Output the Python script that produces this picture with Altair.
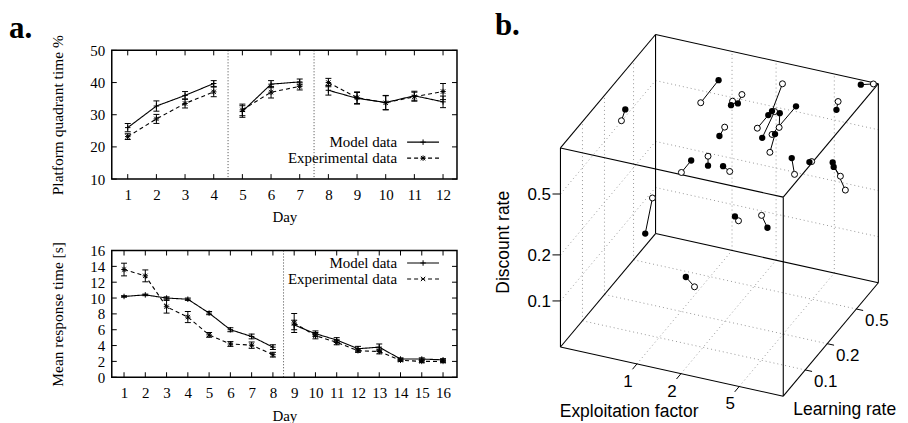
import math
import itertools
import altair as alt
import pandas as pd

SERIF = "Liberation Serif"
SANS = "Liberation Sans"

# ---------------- panel a (top): platform quadrant time % --------------------
pq_days = [1, 2, 3, 4, 5, 6, 7, 8, 9, 10, 11, 12]
pq_block = [1, 1, 1, 1, 2, 2, 2, 3, 3, 3, 3, 3]
pq_model = [26.0, 32.7, 36.0, 39.7, 31.0, 39.5, 40.2, 37.6, 35.1, 33.8, 35.9, 34.0]
pq_model_err = [1.3, 1.6, 1.2, 0.9, 1.8, 1.1, 0.9, 1.5, 1.8, 2.2, 1.4, 1.8]
pq_exp = [23.2, 28.7, 33.5, 37.1, 31.5, 37.0, 38.8, 40.0, 35.3, 33.7, 35.6, 37.2]
pq_exp_err = [0.9, 1.4, 1.4, 1.5, 1.8, 1.8, 1.1, 1.3, 1.8, 2.2, 1.4, 2.5]
pq_dividers = [4.5, 7.5]
pq_yticks = [10, 20, 30, 40, 50]

# ---------------- panel a (bottom): mean response time ------------------------
rt_days = [1, 2, 3, 4, 5, 6, 7, 8, 9, 10, 11, 12, 13, 14, 15, 16]
rt_block = [1, 1, 1, 1, 1, 1, 1, 1, 2, 2, 2, 2, 2, 2, 2, 2]
rt_model = [10.2, 10.4, 10.0, 9.85, 8.1, 6.0, 5.15, 3.8, 6.6, 5.5, 4.7, 3.6, 3.8, 2.3, 2.3, 2.2]
rt_model_err = [0.1, 0.1, 0.15, 0.15, 0.2, 0.25, 0.3, 0.3, 0.6, 0.35, 0.3, 0.3, 0.4, 0.15, 0.15, 0.15]
rt_exp = [13.6, 12.8, 8.9, 7.6, 5.35, 4.2, 4.05, 2.85, 6.85, 5.25, 4.4, 3.35, 3.25, 2.15, 2.0, 2.0]
rt_exp_err = [0.8, 0.75, 0.8, 0.7, 0.3, 0.3, 0.4, 0.3, 1.2, 0.4, 0.3, 0.2, 0.3, 0.15, 0.15, 0.15]
rt_dividers = [8.5]
rt_yticks = [0, 2, 4, 6, 8, 10, 12, 14, 16]

# ---------------- panel b: parameter pairs (filled vs open) ------------------
filled_expl = [0.94, 0.34, 1.23, 1.37, 1.28, 2.18, 2.58, 2.51, 3.09, 3.69, 3.59, 7.59,
               6.01, 1.12, 1.46, 1.99, 6.20, 7.20, 7.61, 7.73, 0.50, 1.91, 3.72, 1.03]
filled_learn = [0.74, 0.30, 0.64, 0.64, 0.41, 0.74, 0.47, 0.41, 0.47, 0.55, 0.30, 1.00,
                0.74, 0.22, 0.22, 0.19, 0.17, 0.22, 0.41, 0.41, 0.26, 0.30, 0.22, 0.22]
filled_disc = [0.76, 0.66, 0.60, 0.63, 0.49, 0.57, 0.72, 0.55, 0.77, 0.81, 0.75, 0.93,
               0.72, 0.47, 0.46, 0.53, 0.81, 0.68, 0.48, 0.45, 0.12, 0.19, 0.22, 0.080]
open_expl = [0.71, 0.32, 1.26, 1.46, 1.39, 2.57, 2.17, 3.05, 3.06, 2.53, 3.31, 9.25,
             6.17, 0.96, 1.46, 2.21, 6.48, 7.46, 9.29, 8.59, 0.56, 2.02, 3.39, 1.18]
open_learn = [0.74, 0.30, 0.64, 0.64, 0.41, 0.74, 0.47, 0.41, 0.47, 0.55, 0.30, 1.00,
              0.74, 0.22, 0.22, 0.19, 0.17, 0.22, 0.41, 0.41, 0.26, 0.30, 0.22, 0.22]
open_disc = [0.51, 0.55, 0.64, 0.73, 0.57, 0.89, 0.57, 0.85, 0.62, 0.49, 0.56, 0.98,
             0.82, 0.38, 0.53, 0.50, 0.64, 0.69, 0.33, 0.40, 0.21, 0.18, 0.26, 0.071]
expl_ticks = [1, 2, 5]
learn_ticks = [0.1, 0.2, 0.5]
disc_ticks = [0.1, 0.2, 0.5]
E_MIN, E_MAX = 0.3, 10.0
L_MIN, L_MAX = 0.05, 1.0
D_MIN, D_MAX = 0.05, 1.0

# ============================ panel a builder =================================
PLUS = "M-1,0L1,0M0,-1L0,1"
CROSS = "M-0.8,-0.8L0.8,0.8M-0.8,0.8L0.8,-0.8"
STAR = PLUS + CROSS
SERIES = ["Model data", "Experimental data"]
ONE = pd.DataFrame({"k": [0]})


def line_panel(days, block, model, model_err, exp, exp_err, dividers, yticks,
               xdom, ydom, w, h, exp_shape, ytitle, legend_rows, label_a=False):
    rows = []
    for d, b, m, me, e, ee in zip(days, block, model, model_err, exp, exp_err):
        rows.append({"day": d, "block": b, "series": SERIES[0], "val": m, "lo": m - me, "hi": m + me})
        rows.append({"day": d, "block": b, "series": SERIES[1], "val": e, "lo": e - ee, "hi": e + ee})
    df = pd.DataFrame(rows)
    xs = alt.Scale(domain=xdom, nice=False, zero=False)
    ys = alt.Scale(domain=ydom, nice=False, zero=False)
    x_axis = alt.Axis(values=days, format="d", title="Day", grid=False, domain=False, ticks=False,
                      labelFont=SERIF, labelFontSize=15, labelColor="black", labelPadding=8,
                      labelFlush=False, labelOverlap=False,
                      titleFont=SERIF, titleFontSize=15, titleFontWeight="normal", titleColor="black",
                      titleX=w / 2, titleY=31, titleAlign="center", titleBaseline="top")
    y_axis = alt.Axis(values=yticks, format="d", title=ytitle, grid=False, domain=False, ticks=False,
                      labelFont=SERIF, labelFontSize=15, labelColor="black", labelPadding=7,
                      labelFlush=False, labelOverlap=False,
                      titleFont=SERIF, titleFontSize=15.5, titleFontWeight="normal", titleColor="black",
                      titleX=-49.5, titleY=h / 2, titleAngle=270, titleAlign="center",
                      titleBaseline="alphabetic")

    def X(f):
        return alt.X(f, scale=xs, axis=x_axis, title="Day")

    def Y(f):
        return alt.Y(f, scale=ys, axis=y_axis, title=ytitle)

    dash = alt.StrokeDash("series:N", scale=alt.Scale(domain=SERIES, range=[[1, 0], [4, 3]]), legend=None)
    shape = alt.Shape("series:N", scale=alt.Scale(domain=SERIES, range=[PLUS, exp_shape]), legend=None)

    frame = alt.Chart(ONE).mark_rect(fillOpacity=0, stroke="black", strokeWidth=1.5).encode(
        x=alt.value(0), x2=alt.value(w), y=alt.value(0), y2=alt.value(h))
    div = alt.Chart(pd.DataFrame({"d": dividers})).mark_rule(
        color="#444", strokeWidth=1, strokeDash=[1, 2]).encode(x=X("d:Q"))
    xt = pd.DataFrame({"t": days})
    yt = pd.DataFrame({"t": yticks})
    tl = 5
    tk = dict(color="black", strokeWidth=1)
    ticks = [
        alt.Chart(xt).mark_rule(**tk).encode(x=X("t:Q"), y=alt.value(h), y2=alt.value(h - tl)),
        alt.Chart(xt).mark_rule(**tk).encode(x=X("t:Q"), y=alt.value(0), y2=alt.value(tl)),
        alt.Chart(yt).mark_rule(**tk).encode(y=Y("t:Q"), x=alt.value(0), x2=alt.value(tl)),
        alt.Chart(yt).mark_rule(**tk).encode(y=Y("t:Q"), x=alt.value(w), x2=alt.value(w - tl)),
    ]
    base = alt.Chart(df)
    bars = base.mark_rule(color="black", strokeWidth=1).encode(x=X("day:Q"), y=Y("lo:Q"), y2="hi:Q")
    caps = base.transform_fold(["lo", "hi"], as_=["end", "yv"]).mark_tick(
        orient="horizontal", size=6, thickness=1, color="black", opacity=1).encode(
        x=X("day:Q"), y=Y("yv:Q"))
    lines = base.mark_line(color="black", strokeWidth=1.1).encode(
        x=X("day:Q"), y=Y("val:Q"), strokeDash=dash, detail="block:N")
    pts = base.mark_point(color="black", strokeWidth=1, size=30, opacity=1, filled=False).encode(
        x=X("day:Q"), y=Y("val:Q"), shape=shape)

    leg = []
    for label, ly, dsh, shp in [(SERIES[0], legend_rows[0], [1, 0], PLUS),
                                (SERIES[1], legend_rows[1], [4, 3], exp_shape)]:
        leg.append(alt.Chart(ONE).mark_text(text=label, align="right", baseline="middle", font=SERIF,
                                            fontSize=15, color="black").encode(
            x=alt.value(286), y=alt.value(ly)))
        leg.append(alt.Chart(ONE).mark_rule(color="black", strokeWidth=1.1, strokeDash=dsh).encode(
            x=alt.value(296), x2=alt.value(328), y=alt.value(ly)))
        leg.append(alt.Chart(ONE).mark_point(shape=shp, size=30, color="black", strokeWidth=1,
                                             opacity=1, filled=False).encode(
            x=alt.value(312), y=alt.value(ly)))
    layers = [lines, div] + ticks + [bars, caps, pts, frame] + leg
    if label_a:
        layers.append(alt.Chart(ONE).mark_text(text="a.", align="left", baseline="alphabetic", font=SERIF,
                                               fontSize=31, fontWeight="bold", color="black").encode(
            x=alt.value(-103), y=alt.value(-12)))
    return alt.layer(*layers).properties(width=w, height=h)


top = line_panel(pq_days, pq_block, pq_model, pq_model_err, pq_exp, pq_exp_err, pq_dividers, pq_yticks,
                 [0.443, 12.487], [10, 50], 346, 129, STAR, "Platform quadrant time %", [92, 108],
                 label_a=True)
bottom = line_panel(rt_days, rt_block, rt_model, rt_model_err, rt_exp, rt_exp_err, rt_dividers, rt_yticks,
                    [0.423, 16.656], [0, 16], 346, 127, CROSS, "Mean response time [s]", [12.5, 28.5])

# ============================ panel b builder =================================
VX = (223.3, -49.3)   # screen vector of the exploitation-factor axis (x right, y up)
VY = (95.3, 113.7)    # learning-rate axis (depth)
VZ = (0.0, 199.5)     # discount-rate axis


def proj(e, l, d, px, py):
    u = f"((log({e})-({math.log(E_MIN)}))/{math.log(E_MAX / E_MIN)})"
    v = f"((log({l})-({math.log(L_MIN)}))/{math.log(L_MAX / L_MIN)})"
    w = f"((log({d})-({math.log(D_MIN)}))/{math.log(D_MAX / D_MIN)})"
    return {px: f"{VX[0]}*{u}+{VY[0]}*{v}+{VZ[0]}*{w}",
            py: f"{VX[1]}*{u}+{VY[1]}*{v}+{VZ[1]}*{w}"}


XS3 = alt.Scale(domain=[-20.7, 339.3], nice=False, zero=False)
YS3 = alt.Scale(domain=[168.3, 297.3], nice=False, zero=False)


def seg_layer(df, **mark):
    return (alt.Chart(df)
            .transform_calculate(**proj("datum.E1", "datum.L1", "datum.D1", "x1", "y1"))
            .transform_calculate(**proj("datum.E2", "datum.L2", "datum.D2", "x2", "y2"))
            .mark_rule(**mark)
            .encode(x=alt.X("x1:Q", scale=XS3, axis=None), y=alt.Y("y1:Q", scale=YS3, axis=None),
                    x2="x2:Q", y2="y2:Q"))


# box edges
corners = list(itertools.product([E_MIN, E_MAX], [L_MIN, L_MAX], [D_MIN, D_MAX]))
edges = []
for a, b in itertools.combinations(corners, 2):
    if sum(1 for i in range(3) if a[i] != b[i]) == 1:
        edges.append({"E1": a[0], "L1": a[1], "D1": a[2], "E2": b[0], "L2": b[1], "D2": b[2]})
edges = pd.DataFrame(edges)

# grid lines on the back wall, left wall and floor
grid = []
for e in expl_ticks:
    grid.append((e, L_MAX, D_MIN, e, L_MAX, D_MAX))
    grid.append((e, L_MIN, D_MIN, e, L_MAX, D_MIN))
for d in disc_ticks:
    grid.append((E_MIN, L_MAX, d, E_MAX, L_MAX, d))
    grid.append((E_MIN, L_MIN, d, E_MIN, L_MAX, d))
for l in learn_ticks:
    grid.append((E_MIN, l, D_MIN, E_MIN, l, D_MAX))
    grid.append((E_MIN, l, D_MIN, E_MAX, l, D_MIN))
grid = pd.DataFrame(grid, columns=["E1", "L1", "D1", "E2", "L2", "D2"])

pairs = pd.DataFrame({"E1": filled_expl, "L1": filled_learn, "D1": filled_disc,
                      "E2": open_expl, "L2": open_learn, "D2": open_disc})
pts_filled = pd.DataFrame({"E": filled_expl, "L": filled_learn, "D": filled_disc})
pts_open = pd.DataFrame({"E": open_expl, "L": open_learn, "D": open_disc})


def proj_chart(df):
    return alt.Chart(df).transform_calculate(**proj("datum.E", "datum.L", "datum.D", "px", "py"))


def enc_xy():
    return dict(x=alt.X("px:Q", scale=XS3, axis=None), y=alt.Y("py:Q", scale=YS3, axis=None))


def axis_ticks(df, dx, dy):
    return (proj_chart(df)
            .transform_calculate(px2=f"datum.px+{dx}", py2=f"datum.py+{dy}")
            .mark_rule(color="black", strokeWidth=1)
            .encode(x2="px2:Q", y2="py2:Q", **enc_xy()))


def axis_labels(df, dx, dy, align):
    return (proj_chart(df)
            .mark_text(font=SANS, fontSize=17, color="black", align=align, baseline="middle", dx=dx, dy=dy)
            .encode(text="lab:N", **enc_xy()))


ex_df = pd.DataFrame({"E": expl_ticks, "L": L_MIN, "D": D_MIN, "lab": [str(t) for t in expl_ticks]})
le_df = pd.DataFrame({"E": E_MAX, "L": learn_ticks, "D": D_MIN, "lab": [str(t) for t in learn_ticks]})
di_df = pd.DataFrame({"E": E_MIN, "L": L_MIN, "D": disc_ticks, "lab": [str(t) for t in disc_ticks]})

title_style = dict(font=SANS, fontSize=17.5, color="black")
panel_b = alt.layer(
    seg_layer(grid, color="#999", strokeWidth=1, strokeDash=[1, 3]),
    seg_layer(edges, color="black", strokeWidth=1.1),
    axis_ticks(ex_df, -4.5, -5.4),
    axis_ticks(le_df, 6.8, -1.5),
    axis_ticks(di_df, -8, 0),
    axis_labels(ex_df, -9, 18, "center"),
    axis_labels(le_df, 20.5, 12, "center"),
    axis_labels(di_df, -9.5, 1, "right"),
    alt.Chart(ONE).mark_text(text="Exploitation factor", align="center", baseline="alphabetic",
                             **title_style).encode(x=alt.value(89.5), y=alt.value(367)),
    alt.Chart(ONE).mark_text(text="Learning rate", align="left", baseline="alphabetic",
                             **title_style).encode(x=alt.value(254), y=alt.value(365)),
    alt.Chart(ONE).mark_text(text="Discount rate", align="center", baseline="alphabetic", angle=270,
                             **title_style).encode(x=alt.value(-30.8), y=alt.value(192.3)),
    seg_layer(pairs, color="black", strokeWidth=1),
    proj_chart(pts_open).mark_point(shape="circle", filled=True, fill="white", stroke="black",
                                    strokeWidth=1, size=36, opacity=1).encode(**enc_xy()),
    proj_chart(pts_filled).mark_point(shape="circle", filled=True, color="black",
                                      size=40, opacity=1).encode(**enc_xy()),
    alt.Chart(ONE).mark_text(text="b.", align="left", baseline="alphabetic", font=SERIF,
                             fontSize=31, fontWeight="bold", color="black").encode(
        x=alt.value(-45), y=alt.value(-15)),
).properties(width=360, height=129)

chart = alt.concat(top, panel_b, bottom, columns=2, bounds="flush",
                   spacing={"row": 71.6, "column": 83}).properties(
    padding={"top": 1, "left": 0, "right": 0, "bottom": 0},
    background="white").configure_view(stroke="transparent")

chart.save("out.html", embed_options={"renderer": "svg", "actions": False})
